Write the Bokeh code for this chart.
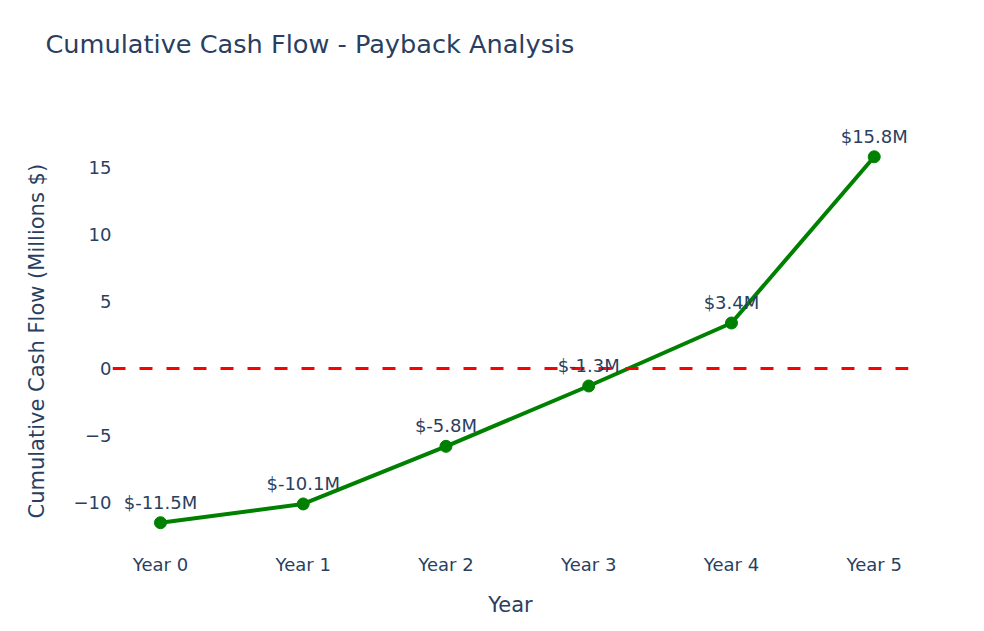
from bokeh.plotting import figure
from bokeh.models import Range1d, FixedTicker, Span, ColumnDataSource, LabelSet, Title
from bokeh.core.properties import value
from bokeh.embed import file_html
from bokeh.resources import INLINE

years = ["Year 0", "Year 1", "Year 2", "Year 3", "Year 4", "Year 5"]
cumulative = [-11.5, -10.1, -5.8, -1.3, 3.4, 15.8]
labels = ["$-11.5M", "$-10.1M", "$-5.8M", "$-1.3M", "$3.4M", "$15.8M"]
y_ticks = [-10, -5, 0, 5, 10, 15]

FONT = "DejaVu Sans"
TXT = "#2a3f5f"

xs = list(range(len(years)))
src = ColumnDataSource(dict(x=xs, y=cumulative, label=labels))

p = figure(width=984, height=631, output_backend="svg", toolbar_location=None, title=None,
           x_range=Range1d(-0.336, 5.24), y_range=Range1d(-13.2, 20.0),
           min_border_left=112, min_border_right=76, min_border_top=100, min_border_bottom=86)

spacer = Title(text=" ", text_font_size="1px", standoff=39)
p.add_layout(spacer, "above")
main_title = Title(text="Cumulative Cash Flow - Payback Analysis", text_font=FONT,
                   text_font_size="25.6px", text_font_style="normal", text_color=TXT,
                   offset=-67, standoff=0)
p.add_layout(main_title, "above")

p.outline_line_color = None
p.xgrid.visible = False
p.ygrid.visible = False

for ax in (p.xaxis, p.yaxis):
    ax.axis_line_color = None
    ax.major_tick_line_color = None
    ax.minor_tick_line_color = None
    ax.major_tick_out = 0
    ax.major_tick_in = 0
    ax.minor_tick_out = 0
    ax.minor_tick_in = 0
    ax.major_label_text_font = FONT
    ax.major_label_text_color = TXT
    ax.major_label_text_font_size = "18px"
    ax.axis_label_text_font = FONT
    ax.axis_label_text_color = TXT
    ax.axis_label_text_font_size = "21px"
    ax.axis_label_text_font_style = "normal"

p.xaxis.ticker = FixedTicker(ticks=xs)
p.xaxis.major_label_overrides = {i: y for i, y in enumerate(years)}
p.xaxis.major_label_standoff = 8
p.xaxis.axis_label = "Year"
p.xaxis.axis_label_standoff = 15

p.yaxis.ticker = FixedTicker(ticks=y_ticks)
p.yaxis.major_label_overrides = {t: ("\u2212" + str(-t) if t < 0 else str(t)) for t in y_ticks}
p.yaxis.major_label_standoff = 1

ytitle = Title(text="Cumulative Cash Flow (Millions $)", align="left", offset=27,
               text_font=FONT, text_font_size="21px", text_font_style="normal",
               text_color=TXT, standoff=44)
p.add_layout(ytitle, "left")

p.add_layout(Span(location=0, dimension="width", line_color="red", line_width=3, line_dash="13 14"))

p.line("x", "y", source=src, line_color="green", line_width=4)
p.scatter("x", "y", source=src, size=12, fill_color="green", line_color="green")

lbl = LabelSet(x="x", y="y", text="label", source=src, y_offset=10, text_align="center",
               text_baseline="bottom", text_font=value(FONT), text_font_size="18px", text_color=TXT)
p.add_layout(lbl)

open("out.html", "w").write(file_html(p, INLINE))
